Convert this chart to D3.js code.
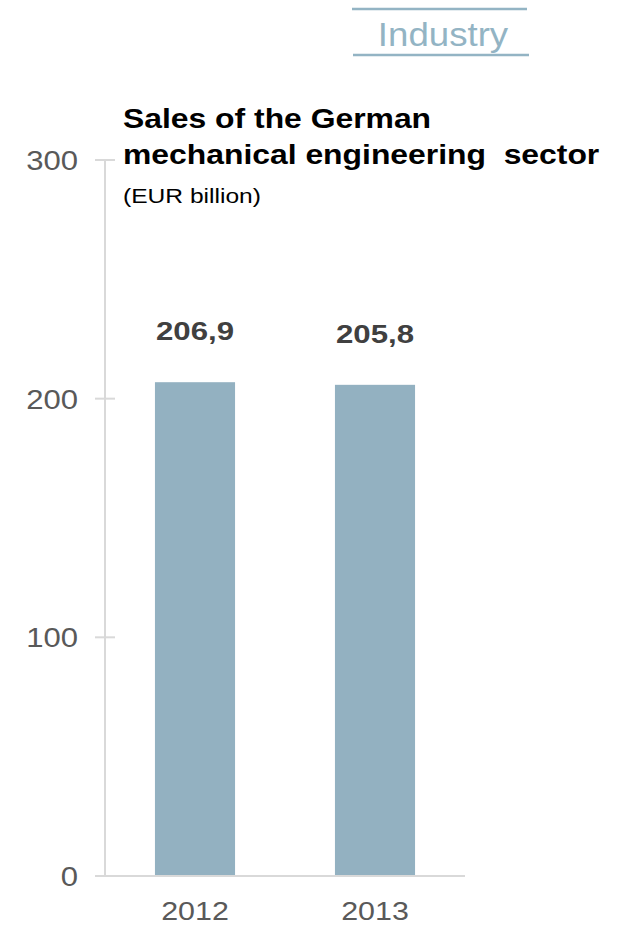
<!DOCTYPE html>
<html>
<head>
<meta charset="utf-8">
<script src="https://cdn.jsdelivr.net/npm/d3@7"></script>
<style>
  html, body { margin: 0; padding: 0; background: #fff; }
  svg { display: block; font-family: "Liberation Sans", Arial, sans-serif; }
</style>
</head>
<body>
<svg id="chart" width="619" height="928"></svg>
<script>
// Sales of the German mechanical engineering sector (EUR billion)
const years = ["2012", "2013"];
const sales = [206.9, 205.8];
const valueLabels = ["206,9", "205,8"];
const yTicks = [0, 100, 200, 300];

const svg = d3.select("#chart");

const axisColor = "#d9d9d9";
const barColor = "#93b1c1";
const accent = "#93b4c4";

// Text set in a slightly widened face
function wideText(sel, x, y, sx) {
  return sel.attr("transform", `translate(${x},${y}) scale(${sx},1)`);
}

// Section header with rules above and below
svg.append("line").attr("x1", 352).attr("x2", 527).attr("y1", 9).attr("y2", 9)
  .attr("stroke", accent).attr("stroke-width", 2.5);
svg.append("line").attr("x1", 353).attr("x2", 529).attr("y1", 55).attr("y2", 55)
  .attr("stroke", accent).attr("stroke-width", 2.5);
wideText(svg.append("text"), 443, 46, 1.11)
  .attr("text-anchor", "middle")
  .attr("font-size", 33).attr("fill", accent).text("Industry");

// Scales
const y = d3.scaleLinear().domain([0, 300]).range([876, 160]);
const x = d3.scaleBand().domain(years).range([105, 465]).paddingInner(0.555).paddingOuter(0.2775);

// Y axis line and ticks
svg.append("line").attr("x1", 105).attr("x2", 105).attr("y1", y(300)).attr("y2", y(0))
  .attr("stroke", axisColor).attr("stroke-width", 2);
svg.selectAll(".ytick").data(yTicks).join("line")
  .attr("class", "ytick")
  .attr("x1", 95).attr("x2", 115)
  .attr("y1", d => y(d)).attr("y2", d => y(d))
  .attr("stroke", axisColor).attr("stroke-width", 2);
svg.selectAll(".ylabel").data(yTicks).join("text")
  .attr("class", "ylabel")
  .attr("transform", d => `translate(78,${y(d) + 10}) scale(1.11,1)`)
  .attr("text-anchor", "end")
  .attr("font-size", 28).attr("fill", "#595959")
  .text(d => d);

// Bars
svg.selectAll(".bar").data(sales).join("rect")
  .attr("class", "bar")
  .attr("x", (d, i) => x(years[i]))
  .attr("width", x.bandwidth())
  .attr("y", d => y(d))
  .attr("height", d => y(0) - y(d))
  .attr("fill", barColor);

// Baseline
svg.append("line").attr("x1", 95).attr("x2", 465).attr("y1", y(0)).attr("y2", y(0))
  .attr("stroke", axisColor).attr("stroke-width", 2);

// Value labels
svg.selectAll(".val").data(sales).join("text")
  .attr("class", "val")
  .attr("transform", (d, i) => `translate(${x(years[i]) + x.bandwidth() / 2},${y(d) - 42}) scale(1.2,1)`)
  .attr("text-anchor", "middle")
  .attr("font-size", 26).attr("font-weight", "bold").attr("fill", "#404040")
  .text((d, i) => valueLabels[i]);

// Category labels
svg.selectAll(".cat").data(years).join("text")
  .attr("class", "cat")
  .attr("transform", d => `translate(${x(d) + x.bandwidth() / 2},920) scale(1.17,1)`)
  .attr("text-anchor", "middle")
  .attr("font-size", 26).attr("fill", "#595959")
  .text(d => d);

// Title
const title = svg.append("g");
wideText(title.append("text"), 123, 128, 1.155)
  .attr("font-size", 27.6).attr("font-weight", "bold").attr("fill", "#000")
  .text("Sales of the German");
wideText(title.append("text"), 123, 164, 1.155)
  .attr("font-size", 27.6).attr("font-weight", "bold").attr("fill", "#000")
  .style("white-space", "pre")
  .text("mechanical engineering  sector");
wideText(title.append("text"), 123, 203, 1.2)
  .attr("font-size", 20.5).attr("fill", "#000")
  .text("(EUR billion)");
</script>
</body>
</html>
